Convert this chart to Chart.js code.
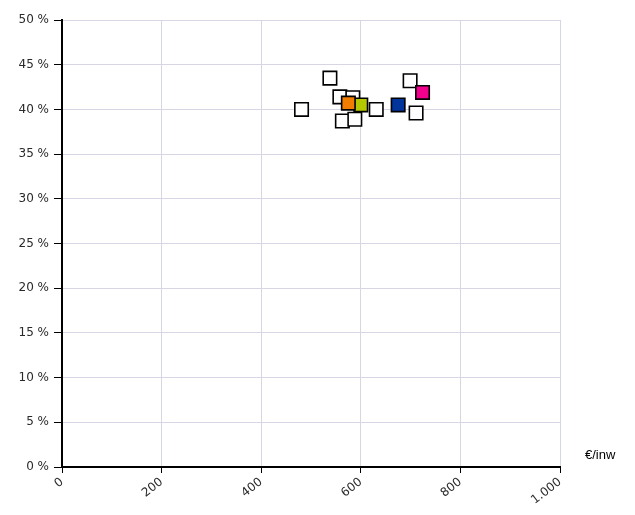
<!DOCTYPE html>
<html>
<head>
<meta charset="utf-8">
<script src="https://cdn.jsdelivr.net/npm/chart.js@4.4.1/dist/chart.umd.min.js"></script>
<style>
  html, body { margin: 0; padding: 0; background: #fff; }
  #wrap { position: relative; width: 635px; height: 515px; }
</style>
</head>
<body>
<div id="wrap"><canvas id="scatter"></canvas></div>
<script>
// uitgaven per inwoner (x) en percentage (y)
const overigeX = [481, 538, 558, 584, 563, 588, 631, 711, 699];
const overigeY = [40.0, 43.5, 41.4, 41.3, 38.7, 38.9, 40.0, 39.6, 43.2];

const uitgelichtX = [575, 600, 675, 724];
const uitgelichtY = [40.7, 40.5, 40.5, 41.9];
const uitgelichtKleur = ["#f07d00", "#b4c800", "#00359c", "#f0008c"];

const xTicks = [0, 200, 400, 600, 800, 1000];
const yTicks = [0, 5, 10, 15, 20, 25, 30, 35, 40, 45, 50];
const xTitel = "€/inw";

function punten(xs, ys) {
  return xs.map((x, i) => ({ x: x, y: ys[i] }));
}

function formatNL(v) {
  return String(v).replace(/\B(?=(\d{3})+(?!\d))/g, ".");
}

const datasets = [];
uitgelichtX.forEach((x, i) => {
  datasets.push({
    data: punten([x], [uitgelichtY[i]]),
    backgroundColor: uitgelichtKleur[i],
    borderColor: "#000",
    borderWidth: 1.6,
    pointStyle: "rect",
    pointRadius: 9.5,
    pointHoverRadius: 9.5
  });
});
datasets.push({
  data: punten(overigeX, overigeY),
  backgroundColor: "#fff",
  borderColor: "#000",
  borderWidth: 1.6,
  pointStyle: "rect",
  pointRadius: 9.5,
  pointHoverRadius: 9.5
});

// x-as titel rechts naast de as
const titelPlugin = {
  id: "xTitel",
  afterDraw(chart) {
    const ctx = chart.ctx;
    ctx.save();
    ctx.font = "13px 'Liberation Sans', Arial, sans-serif";
    ctx.fillStyle = "#000";
    ctx.textBaseline = "middle";
    ctx.fillText(xTitel, 585, 455);
    ctx.restore();
  }
};

const tickFont = { family: "'DejaVu Sans', Verdana, sans-serif", size: 12 };

new Chart(document.getElementById("scatter"), {
  type: "scatter",
  data: { datasets: datasets },
  plugins: [titelPlugin],
  options: {
    responsive: true,
    maintainAspectRatio: false,
    animation: false,
    layout: { padding: { top: 20, right: 75, bottom: 0, left: 0 } },
    plugins: { legend: { display: false }, tooltip: { enabled: false } },
    scales: {
      x: {
        type: "linear",
        min: 0,
        max: 1000,
        afterFit(scale) { scale.height = 48; },
        afterBuildTicks(scale) { scale.ticks = xTicks.map(v => ({ value: v })); },
        border: { color: "#000", width: 2 },
        grid: { color: "#d6d6e4", tickColor: "#000", tickLength: 6 },
        ticks: {
          color: "#2a2a2a",
          font: tickFont,
          minRotation: 38,
          maxRotation: 38,
          padding: 2,
          callback: v => formatNL(v)
        }
      },
      y: {
        type: "linear",
        min: 0,
        max: 50,
        afterFit(scale) { scale.width = 62; },
        afterBuildTicks(scale) { scale.ticks = yTicks.map(v => ({ value: v })); },
        border: { color: "#000", width: 2 },
        grid: { color: "#d6d6e4", tickColor: "#000", tickLength: 8 },
        ticks: {
          color: "#2a2a2a",
          font: tickFont,
          padding: 5,
          callback: v => v + " %"
        }
      }
    }
  }
});
</script>
</body>
</html>
